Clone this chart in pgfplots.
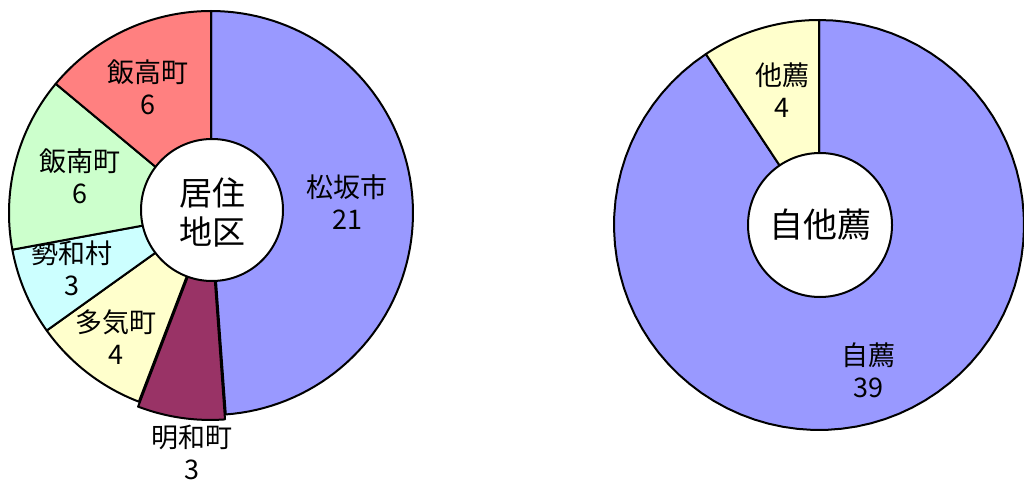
\documentclass[border=0pt]{standalone}
\usepackage{pgfplots}
\pgfplotsset{compat=1.18}
\usepackage{pgfplotstable}
\usepackage{fontspec}
\setmainfont{Noto Sans CJK JP}

\definecolor{cBlue}{HTML}{9999FF}
\definecolor{cMaroon}{HTML}{993366}
\definecolor{cYellow}{HTML}{FFFFCC}
\definecolor{cCyan}{HTML}{CCFFFF}
\definecolor{cGreen}{HTML}{CCFFCC}
\definecolor{cRed}{HTML}{FF8080}

% slices clockwise from 12 o'clock; lx ly = label centre in pixels
\pgfplotstableread{
name   value color   shift lx  ly
松坂市 21    cBlue   0     347 187
明和町 3     cMaroon 5     192 437
多気町 4     cYellow 0     116 322
勢和村 3     cCyan   0     72  253
飯南町 6     cGreen  0     80  161
飯高町 6     cRed    0     148 72
}\residence

\pgfplotstableread{
name value color   shift lx  ly
自薦 39    cBlue   0     868 355
他薦 4     cYellow 0     782 75
}\nomination

\newcommand\labelfont{\fontsize{27}{30}\selectfont}

% #1 table, #2 cx, #3 cy, #4 radius
\newcommand\piechart[4]{%
  \pgfplotstablegetrowsof{#1}%
  \pgfmathtruncatemacro\nlast{\pgfplotsretval-1}%
  \def\total{0}%
  \pgfplotsforeachungrouped \i in {0,...,\nlast}{%
    \pgfplotstablegetelem{\i}{value}\of{#1}%
    \pgfmathsetmacro\total{\total+\pgfplotsretval}%
  }%
  \def\cum{0}%
  \pgfplotsforeachungrouped \i in {0,...,\nlast}{%
    \pgfplotstablegetelem{\i}{value}\of{#1}\let\val\pgfplotsretval
    \pgfplotstablegetelem{\i}{color}\of{#1}\let\col\pgfplotsretval
    \pgfplotstablegetelem{\i}{shift}\of{#1}\let\shft\pgfplotsretval
    \pgfplotstablegetelem{\i}{name}\of{#1}\let\nm\pgfplotsretval
    \pgfplotstablegetelem{\i}{lx}\of{#1}\let\lx\pgfplotsretval
    \pgfplotstablegetelem{\i}{ly}\of{#1}\let\ly\pgfplotsretval
    \pgfmathsetmacro\aa{360*\cum/\total}%
    \pgfmathsetmacro\bb{360*(\cum+\val)/\total}%
    \pgfmathsetmacro\md{(\aa+\bb)/2}%
    \pgfmathsetmacro\ox{#2+\shft*sin(\md)}%
    \pgfmathsetmacro\oy{#3-\shft*cos(\md)}%
    \pgfmathsetmacro\ny{\ly+33}%
    \edef\temp{%
      \noexpand\addplot[draw=black, line width=2pt, line join=round,
        fill=\col, domain=\aa:\bb, samples=80, variable=\noexpand\t]
        ({\ox+#4*sin(\noexpand\t)}, {\oy-#4*cos(\noexpand\t)})
        -- (axis cs:\ox,\oy) -- cycle;
      \noexpand\node[font=\noexpand\labelfont] at (axis cs:\lx,\ly) {\nm};
      \noexpand\node[font=\noexpand\labelfont] at (axis cs:\lx,\ny) {\val};
    }%
    \temp
    \pgfmathsetmacro\cum{\cum+\val}%
  }%
}

\begin{document}
\begin{tikzpicture}
\begin{axis}[
    width=1024pt, height=486pt, scale only axis,
    xmin=0, xmax=1024, ymin=0, ymax=486,
    y dir=reverse,
    hide axis,
]
  \piechart{\residence}{211}{213}{202}
  \draw[line width=2pt, fill=white] (axis cs:212,210) circle[radius=71];
  \node[font=\fontsize{33}{36}\selectfont] at (axis cs:212,192.5) {居住};
  \node[font=\fontsize{33}{36}\selectfont] at (axis cs:212,231.5) {地区};

  \piechart{\nomination}{819}{225}{205}
  \draw[line width=2pt, fill=white] (axis cs:820,225) circle[radius=72];
  \node[font=\fontsize{34}{36}\selectfont] at (axis cs:820,225) {自他薦};
\end{axis}
\useasboundingbox (current axis.south west) rectangle (current axis.north east);
\end{tikzpicture}
\end{document}
